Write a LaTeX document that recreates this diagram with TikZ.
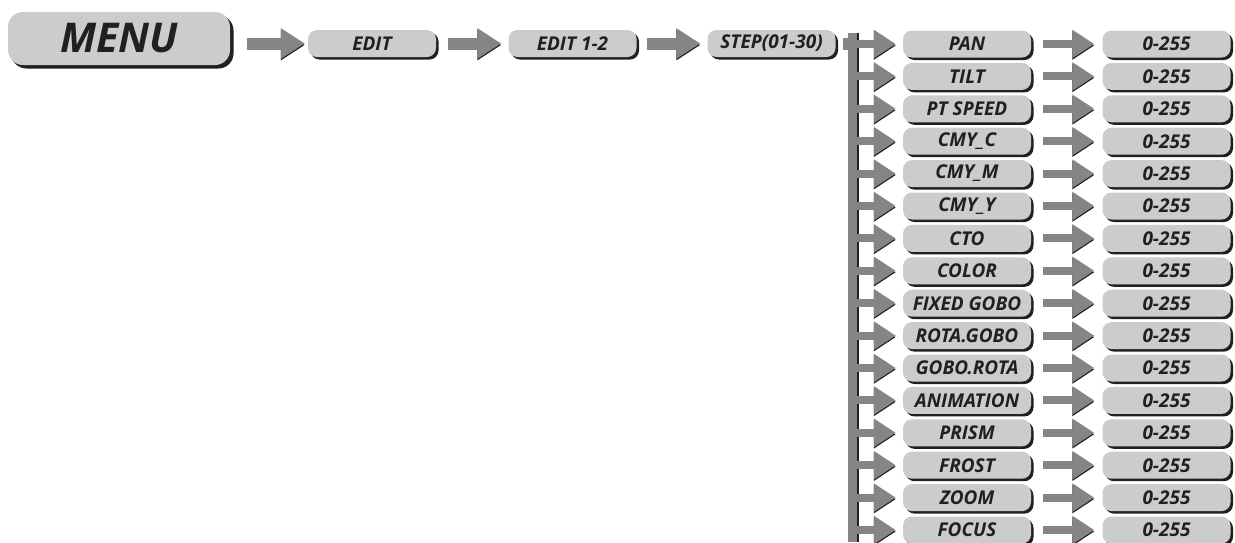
\documentclass[tikz,border=0pt]{standalone}
\usepackage{fontspec}
\setmainfont{Open Sans}
\usetikzlibrary{arrows.meta,shadows}
\definecolor{boxgray}{HTML}{CBCCCE}
\definecolor{arrgray}{HTML}{858585}
\definecolor{dark}{HTML}{231F20}
\tikzset{
  pill/.style={rounded corners=9pt, fill=boxgray, minimum width=128pt, minimum height=27pt,
    inner sep=0pt, text=dark, font=\fontsize{19}{19}\selectfont\bfseries\itshape,
    general shadow={fill=dark, shadow xshift=2.5pt, shadow yshift=-2.5pt}},
  bigpill/.style={pill, rounded corners=15pt, minimum width=222pt, minimum height=53pt,
    font=\fontsize{41}{41}\selectfont\bfseries\itshape,
    general shadow={fill=dark, shadow xshift=3.5pt, shadow yshift=-3.5pt}},
  arr/.style={draw=arrgray, line width=8pt, -{Triangle[length=22pt,width=27pt]},
    preaction={draw=dark, transform canvas={yshift=-1.5pt}}},
  bigarr/.style={arr, line width=12pt, -{Triangle[length=24pt,width=29pt]}},
  shaft/.style={draw=arrgray, line width=12pt},
  barbox/.style={fill=arrgray, minimum width=9pt, minimum height=509pt, inner sep=0pt,
    general shadow={fill=dark, shadow xshift=2pt, shadow yshift=0pt}}
}
\begin{document}
\begin{tikzpicture}[x=1pt,y=-1pt]
\useasboundingbox (0,0) rectangle (1235,542);
\node[bigpill] (menu) at (119,38.5) {MENU};
\node[pill] (edit) at (372,43.5) {EDIT};
\node[pill] (edit12) at (572.5,43.5) {EDIT 1-2};
\node[pill] (step) at (771.5,43.5) {STEP(01-30)};
\node[barbox] (bar) at (852.5,287.5) {};
\draw[bigarr, shorten <=17pt, shorten >=3pt] (menu.east |- edit) -- (edit.west);
\draw[bigarr, shorten <=12pt, shorten >=7pt] (edit.east) -- (edit12.west);
\draw[bigarr, shorten <=10pt, shorten >=7pt] (edit12.east) -- (step.west);
\draw[shaft, shorten <=7pt] (step.east) -- (bar.west |- step);
\foreach \t [count=\i] in {PAN,TILT,PT SPEED,CMY\_C,CMY\_M,CMY\_Y,CTO,COLOR,FIXED GOBO,ROTA.GOBO,GOBO.ROTA,ANIMATION,PRISM,FROST,ZOOM,FOCUS}{
  \pgfmathsetmacro\yy{44+(\i-1)*32.4}
  \node[pill] (n\i) at (967,\yy) {\t};
  \node[pill] (v\i) at (1166.5,\yy) {0-255};
  \draw[arr, shorten >=7pt] (bar.east |- n\i) -- (n\i.west);
  \draw[arr, shorten <=12pt, shorten >=8pt] (n\i.east) -- (v\i.west);
}
\end{tikzpicture}
\end{document}
